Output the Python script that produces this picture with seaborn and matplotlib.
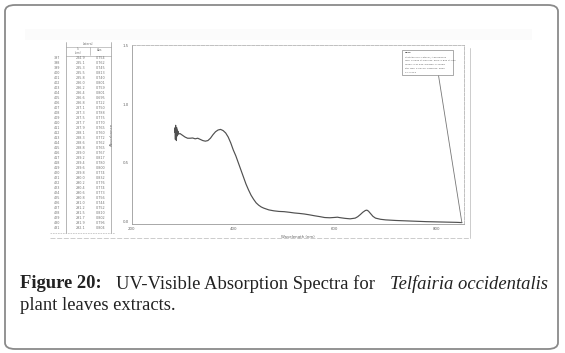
import matplotlib
matplotlib.use("Agg")
import matplotlib.pyplot as plt
from matplotlib.patches import FancyBboxPatch, Rectangle
from matplotlib.lines import Line2D
from matplotlib.ticker import MultipleLocator
import seaborn as sns
import pandas as pd

# ---------------- data ----------------
wavelength = [285, 285.5, 286, 286.5, 287, 287.5, 288, 288.5, 289, 289.5, 290, 291, 292,
              295, 300, 305, 310, 315, 320, 325, 330, 335, 340, 345, 350, 355, 360, 365,
              370, 375, 380, 385, 390, 395, 400, 405, 410, 415, 420, 425, 430, 435, 440,
              445, 450, 455, 460, 470, 480, 490, 500, 510, 520, 530, 540, 550, 560, 570,
              580, 590, 600, 605, 610, 620, 630, 640, 645, 650, 655, 660, 663, 666, 670,
              675, 680, 690, 700, 720, 750, 780, 810, 840, 850]
absorbance = [0.76, 0.80, 0.70, 0.82, 0.72, 0.79, 0.69, 0.80, 0.74, 0.78, 0.73, 0.77, 0.745,
              0.75, 0.735, 0.72, 0.71, 0.71, 0.712, 0.705, 0.71, 0.70, 0.69, 0.685, 0.69, 0.71,
              0.74, 0.765, 0.78, 0.785, 0.775, 0.755, 0.72, 0.67, 0.61, 0.56, 0.50, 0.44, 0.38,
              0.32, 0.27, 0.225, 0.19, 0.16, 0.14, 0.125, 0.115, 0.10, 0.092, 0.087, 0.085,
              0.08, 0.074, 0.07, 0.065, 0.058, 0.05, 0.043, 0.035, 0.033, 0.036, 0.038, 0.034,
              0.028, 0.024, 0.03, 0.042, 0.06, 0.08, 0.095, 0.098, 0.09, 0.07, 0.045, 0.03,
              0.02, 0.015, 0.01, 0.005, 0.0, -0.003, -0.006, -0.008]

yticks = [0.0, 0.5, 1.0, 1.5]
ytick_labels = ["0.0", "0.5", "1.0", "1.5"]
xticks = [200, 400, 600, 800]
xtick_labels = ["200", "400", "600", "800"]

table_idx = list(range(397, 432))
table_wl = ["284.9", "285.1", "285.3", "285.5", "285.8", "286.0", "286.2", "286.4", "286.6",
            "286.8", "287.1", "287.3", "287.5", "287.7", "287.9", "288.1", "288.3", "288.6",
            "288.8", "289.0", "289.2", "289.4", "289.6", "289.8", "290.0", "290.2", "290.4",
            "290.6", "290.8", "291.0", "291.2", "291.5", "291.7", "291.9", "292.1"]
table_abs = ["0.754", "0.762", "0.745", "0.813", "0.740", "0.801", "0.759", "0.801", "0.695",
             "0.722", "0.750", "0.788", "0.775", "0.770", "0.765", "0.760", "0.772", "0.762",
             "0.765", "0.767", "0.817", "0.780", "0.800", "0.774", "0.832", "0.776", "0.774",
             "0.773", "0.756", "0.744", "0.752", "0.810", "0.802", "0.796", "0.804"]

stats_lines = ["Peak",
               "Statistics for: Lateral / Absorbance",
               "min: 0.0030 at 850 nm, max: 0.832 at 290",
               "mean: 0.21345, median: 0.10288",
               "std. dev: 0.25719, samples: 2800",
               "Sy: 0.013"]

caption_bold = "Figure 20:"
caption_reg = "UV-Visible Absorption Spectra for"
caption_ital = "Telfairia occidentalis"
caption_line2 = "plant leaves extracts."

# ---------------- figure ----------------
sns.set_style("white")
plt.rcParams["font.family"] = ["DejaVu Sans"]

W, H = 565, 353
fig = plt.figure(figsize=(W / 100, H / 100), dpi=100)
fig.patch.set_facecolor("white")

def fx(px):
    return px / W

def fy(py):
    return 1 - py / H

# outer rounded border
border = FancyBboxPatch((fx(5), fy(349)), fx(553), (344) / H,
                        boxstyle="round,pad=0,rounding_size=0.018",
                        transform=fig.transFigure, fill=False,
                        edgecolor="#8a8a8a", linewidth=1.3)
fig.patches.append(border)

# very faint scan strip at top
fig.patches.append(Rectangle((fx(25), fy(40)), fx(507), 11 / H, transform=fig.transFigure,
                             facecolor="#fbfbfb", edgecolor="none", zorder=0))

# ---------------- axes ----------------
ax_left, ax_right = 131.7, 464.4
ax_top, ax_bottom = 45.4, 224.0
ax = fig.add_axes([fx(ax_left), fy(ax_bottom), fx(ax_right - ax_left), (ax_bottom - ax_top) / H])
ax.set_facecolor("none")

df = pd.DataFrame({"Wavelength": wavelength, "Absorbance": absorbance})
sns.lineplot(data=df, x="Wavelength", y="Absorbance", ax=ax, color="#505050",
             linewidth=0.85, sort=False, estimator=None)

ax.set_xlim(200, 855)
ax.set_ylim(-0.02, 1.5)
ax.set_yticks(yticks)
ax.set_yticklabels(ytick_labels)
ax.set_xticks(xticks)
ax.set_xticklabels(xtick_labels)
ax.yaxis.set_minor_locator(MultipleLocator(0.1))
ax.xaxis.set_minor_locator(MultipleLocator(100))
ax.tick_params(axis="both", which="major", labelsize=2.8, colors="#9a9a9a",
               labelcolor="#666666", length=2.2, width=0.5, pad=1, direction="inout")
ax.tick_params(axis="both", which="minor", colors="#aaaaaa", length=1.5, width=0.4,
               direction="inout")
ax.set_xlabel("Wavelength (nm)", fontsize=2.8, color="#666666", labelpad=3)
ax.set_ylabel("Absorbance", fontsize=2.8, color="#666666", labelpad=6)
for side in ["left", "bottom"]:
    ax.spines[side].set_color("#9a9a9a")
    ax.spines[side].set_linewidth(0.6)
for side in ["top", "right"]:
    ax.spines[side].set_color("#b5b5b5")
    ax.spines[side].set_linewidth(0.6)
    ax.spines[side].set_linestyle((0, (4, 1.5)))
ax.grid(False)

# stats annotation box with leader line to end point
bx0, by0, bx1, by1 = 0.812, 0.834, 0.966, 0.974
ax.add_patch(Rectangle((bx0, by0), bx1 - bx0, by1 - by0, transform=ax.transAxes,
                       facecolor="white", edgecolor="#888888", linewidth=0.5, zorder=4))
n_lines = len(stats_lines)
step = (by1 - by0 - 0.03) / (n_lines - 1)
for k, line in enumerate(stats_lines):
    ax.text(bx0 + 0.008, by1 - 0.015 - k * step, line, transform=ax.transAxes,
            fontsize=1.75, color="#555555", va="center", ha="left", zorder=5,
            fontweight="bold" if k == 0 else "normal")
ax.annotate("", xy=(wavelength[-1], absorbance[-1]), xytext=(0.922, by0),
            textcoords="axes fraction",
            arrowprops=dict(arrowstyle="-", color="#777777", lw=0.6,
                            shrinkA=0, shrinkB=0))

# ---------------- printed outer frame of scanned chart ----------------
fig.lines.append(Line2D([fx(50), fx(470)], [fy(238), fy(238)], transform=fig.transFigure,
                        color="#c4c4c4", lw=0.6, linestyle=(0, (6, 2))))
fig.lines.append(Line2D([fx(470), fx(470)], [fy(48), fy(238)], transform=fig.transFigure,
                        color="#c4c4c4", lw=0.6))

# ---------------- scanned data table ----------------
tcol = "#777777"
fig.lines.append(Line2D([fx(66), fx(66)], [fy(42), fy(233)], transform=fig.transFigure,
                        color="#999999", lw=0.5))
fig.lines.append(Line2D([fx(111), fx(111)], [fy(42), fy(233)], transform=fig.transFigure,
                        color="#999999", lw=0.5))
fig.lines.append(Line2D([fx(90), fx(90)], [fy(47), fy(55)], transform=fig.transFigure,
                        color="#999999", lw=0.4))
fig.lines.append(Line2D([fx(66), fx(111)], [fy(47), fy(47)], transform=fig.transFigure,
                        color="#999999", lw=0.4))
fig.lines.append(Line2D([fx(66), fx(111)], [fy(55.5), fy(55.5)], transform=fig.transFigure,
                        color="#999999", lw=0.4))
fig.lines.append(Line2D([fx(50), fx(115)], [fy(233), fy(233)], transform=fig.transFigure,
                        color="#aaaaaa", lw=0.4, linestyle=(0, (3, 1.5))))
fig.text(fx(88), fy(44), "Lateral", fontsize=2.2, color=tcol, ha="center", va="center")
fig.text(fx(78), fy(49.5), "λ", fontsize=2.2, color=tcol, ha="center", va="center")
fig.text(fx(78), fy(53.5), "(nm)", fontsize=2.0, color=tcol, ha="center", va="center")
fig.text(fx(100), fy(50), "Abs", fontsize=2.2, color=tcol, ha="center", va="center")
row_h = 175 / len(table_idx)
for i, (n, w, a) in enumerate(zip(table_idx, table_wl, table_abs)):
    y = fy(58 + i * row_h)
    fig.text(fx(57), y, str(n), fontsize=2.4, color=tcol, ha="center", va="center")
    fig.text(fx(81), y, w, fontsize=2.4, color=tcol, ha="center", va="center")
    fig.text(fx(101), y, a, fontsize=2.4, color=tcol, ha="center", va="center")

# ---------------- caption (justified first line) ----------------
cap_font = ["Liberation Serif", "DejaVu Serif"]
cap_size = 13.4
y1, y2 = fy(284), fy(306)
x_left, x_right = 20, 548
t1 = fig.text(fx(x_left), y1, caption_bold, fontsize=cap_size, family=cap_font,
              fontweight="bold", color="#222222", ha="left", va="center")
t3 = fig.text(fx(x_right), y1, caption_ital, fontsize=cap_size, family=cap_font,
              style="italic", color="#222222", ha="right", va="center")
fig.canvas.draw()
r = fig.canvas.get_renderer()
b1 = t1.get_window_extent(r)
b3 = t3.get_window_extent(r)
t2 = fig.text(0, y1, caption_reg, fontsize=cap_size, family=cap_font,
              color="#222222", ha="center", va="center")
fig.canvas.draw()
b2 = t2.get_window_extent(r)
gap = (b3.x0 - b1.x1 - b2.width) / 2
t2.set_x((b1.x1 + gap + b2.width / 2) / W)
fig.text(fx(x_left), y2, caption_line2, fontsize=cap_size, family=cap_font,
         color="#222222", ha="left", va="center")

fig.savefig("out.png", dpi=100, facecolor="white")
